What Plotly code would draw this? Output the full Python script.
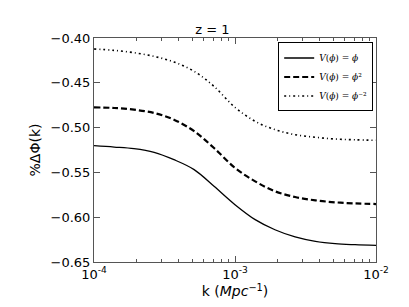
import plotly.graph_objects as go

k = [1.0e-4, 1.39e-4, 1.92e-4, 2.67e-4, 3.69e-4, 5.13e-4, 7.1e-4, 1.0e-3,
     1.39e-3, 1.92e-3, 2.67e-3, 3.72e-3, 5.13e-3, 7.1e-3, 1.0e-2]
v_phi = [-0.5202, -0.5217, -0.5235, -0.5276, -0.5358, -0.5469, -0.5655, -0.5860,
         -0.6027, -0.6140, -0.6220, -0.6270, -0.6296, -0.6307, -0.6314]
v_phi2 = [-0.4774, -0.4781, -0.4800, -0.4837, -0.4912, -0.5040, -0.5228, -0.5450,
          -0.5600, -0.5711, -0.5775, -0.5812, -0.5834, -0.5846, -0.5853]
v_phim2 = [-0.4123, -0.4138, -0.4164, -0.4205, -0.4268, -0.4372, -0.4540, -0.4774,
           -0.4930, -0.5023, -0.5079, -0.5108, -0.5127, -0.5136, -0.5142]

labels = ["<i>V</i>(<i>ϕ</i>) = <i>ϕ</i>",
          "<i>V</i>(<i>ϕ</i>) = <i>ϕ</i>²",
          "<i>V</i>(<i>ϕ</i>) = <i>ϕ</i>⁻²"]
xtick_vals = [1e-4, 1e-3, 1e-2]
xtick_text = ["10<sup>-4</sup>", "10<sup>-3</sup>", "10<sup>-2</sup>"]
ytick_vals = [-0.65, -0.60, -0.55, -0.50, -0.45, -0.40]
ytick_text = ["\u22120.65", "\u22120.60", "\u22120.55", "\u22120.50", "\u22120.45", "\u22120.40"]

minor_x = [m * 10**e for e in (-4, -3) for m in range(2, 10)]

fig = go.Figure()
fig.add_trace(go.Scatter(x=k, y=v_phi, mode="lines", name=labels[0],
                         line=dict(color="black", width=1.3, shape="spline", dash="solid")))
fig.add_trace(go.Scatter(x=k, y=v_phi2, mode="lines", name=labels[1],
                         line=dict(color="black", width=2.2, shape="spline", dash="6px,3px")))
fig.add_trace(go.Scatter(x=k, y=v_phim2, mode="lines", name=labels[2],
                         line=dict(color="black", width=1.6, shape="spline", dash="2px,3px,1px,3px")))

axis_common = dict(showgrid=False, zeroline=False, showline=True, linecolor="#555",
                   linewidth=1, mirror="ticks", ticks="inside", tickcolor="#555",
                   automargin=False)

fig.update_layout(
    width=409, height=307,
    margin=dict(l=86, r=41, t=30, b=53),
    paper_bgcolor="white", plot_bgcolor="white",
    title=dict(text="z = 1", x=0.5, xanchor="center", y=0.93, yanchor="middle",
               font=dict(family="DejaVu Sans", size=13, color="black")),
    xaxis=dict(type="log", range=[-4, -2], tickmode="array", tickvals=xtick_vals,
               ticktext=xtick_text, ticklen=6,
               tickfont=dict(family="DejaVu Sans", size=13, color="black"),
               minor=dict(tickmode="array", tickvals=minor_x, ticks="inside", ticklen=3,
                          tickcolor="#555"),
               title=dict(text="k (<i>Mpc</i><sup>−1</sup>)", standoff=4,
                          font=dict(family="DejaVu Sans", size=14, color="black")),
               **axis_common),
    yaxis=dict(range=[-0.65, -0.40], tickmode="array", tickvals=ytick_vals,
               ticktext=ytick_text, ticklen=6,
               tickfont=dict(family="DejaVu Sans", size=13, color="black"),
               title=dict(text="%ΔΦ(k)", standoff=6,
                          font=dict(family="DejaVu Sans", size=14, color="black")),
               **axis_common),
    legend=dict(x=0.99, y=0.98, xanchor="right", yanchor="top",
                bordercolor="black", borderwidth=1, bgcolor="white",
                font=dict(family="DejaVu Serif", size=9, color="black"),
                tracegroupgap=0, itemwidth=30),
    showlegend=True,
)

fig.write_html("out.html")
